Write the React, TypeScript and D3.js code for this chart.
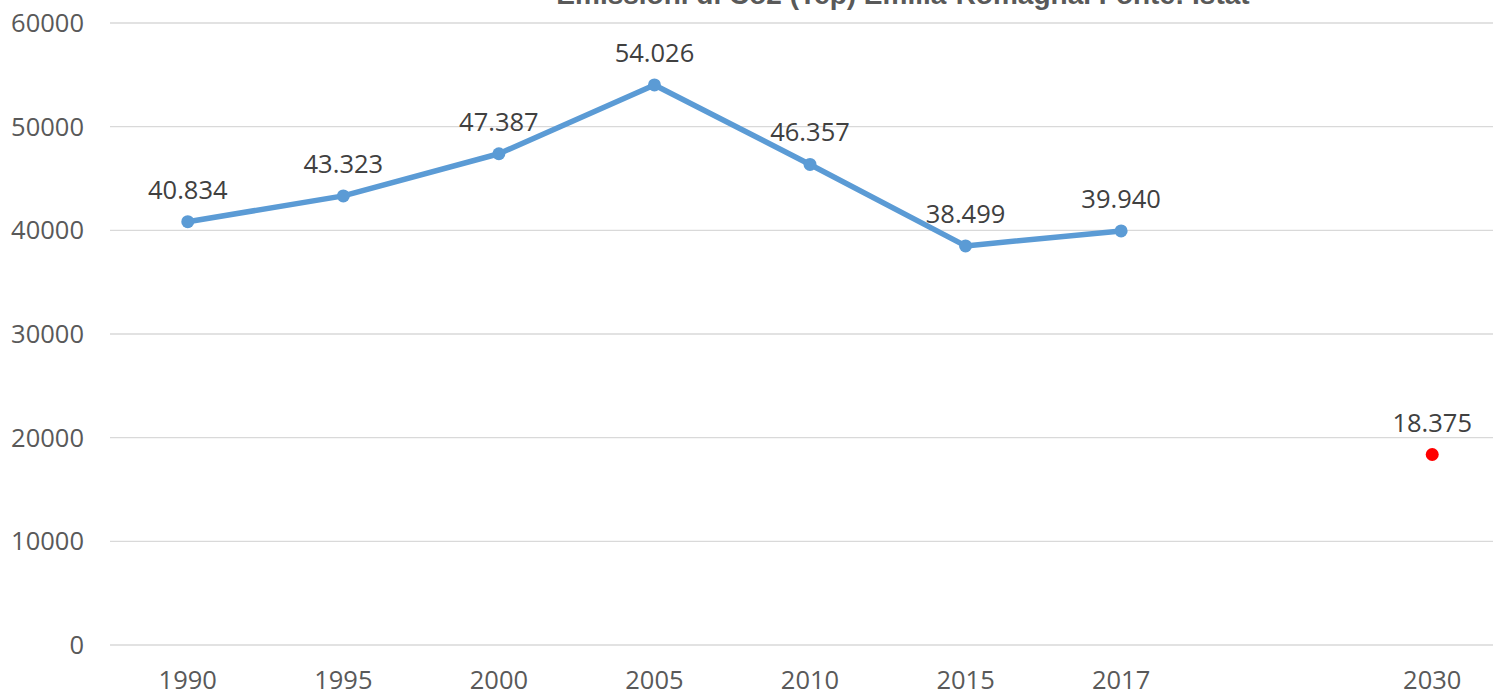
import React from "react";
import * as d3 from "d3";

const categories = ["1990", "1995", "2000", "2005", "2010", "2015", "2017", "", "2030"];
const seriesYears = ["1990", "1995", "2000", "2005", "2010", "2015", "2017"];
const seriesValues = [40834, 43323, 47387, 54026, 46357, 38499, 39940];
const targetYear = "2030";
const targetValue = 18375;
const yTicks = [0, 10000, 20000, 30000, 40000, 50000, 60000];
const title = "Emissioni di Co2 (Tep) Emilia-Romagna. Fonte: Istat";

const W = 1493;
const H = 693;
const left = 110;
const right = 1510;
const top = 23;
const bottom = 645;

const fmt = (v: number) => {
  const s = String(v);
  return s.slice(0, s.length - 3) + "." + s.slice(s.length - 3);
};

export default function App() {
  const x = d3.scaleBand<string>().domain(categories.map((c, i) => c || "_" + i)).range([left, right]);
  const key = (c: string) => (c === "" ? "_" + categories.indexOf("") : c);
  const cx = (c: string) => (x(key(c)) as number) + x.bandwidth() / 2;
  const y = d3.scaleLinear().domain([0, 60000]).range([bottom, top]);
  const line = d3
    .line<number>()
    .x((_, i) => cx(seriesYears[i]))
    .y((d) => y(d));
  const font = "'Open Sans', 'Liberation Sans', sans-serif";
  const fs = 25.5;
  return (
    <svg width={W} height={H} style={{ position: "absolute", left: 0, top: 0, background: "#fff" }}>
      <rect x={0} y={0} width={W} height={H} fill="#fff" />
      <text x={903} y={4} textAnchor="middle" fontFamily="'Liberation Sans', Arial, sans-serif" fontWeight="bold" fontSize={28} fill="#595959">
        {title}
      </text>
      {yTicks.map((t) => (
        <g key={t}>
          <line x1={left} x2={W} y1={y(t)} y2={y(t)} stroke="#d9d9d9" strokeWidth={1.3} />
          <text x={84} y={y(t) + 9} textAnchor="end" fontFamily={font} fontSize={fs} fill="#595959">
            {t}
          </text>
        </g>
      ))}
      {categories.map((c, i) =>
        c ? (
          <text key={i} x={cx(c)} y={689} textAnchor="middle" fontFamily={font} fontSize={fs} fill="#595959">
            {c}
          </text>
        ) : null
      )}
      <path d={line(seriesValues) || ""} fill="none" stroke="#5B9BD5" strokeWidth={5.5} strokeLinejoin="round" />
      {seriesValues.map((v, i) => (
        <g key={i}>
          <circle cx={cx(seriesYears[i])} cy={y(v)} r={6.5} fill="#5B9BD5" />
          <text x={cx(seriesYears[i])} y={y(v) - 23} textAnchor="middle" fontFamily={font} fontSize={fs} fill="#404040">
            {fmt(v)}
          </text>
        </g>
      ))}
      <circle cx={cx(targetYear)} cy={y(targetValue)} r={6.5} fill="#FF0000" />
      <text x={cx(targetYear)} y={y(targetValue) - 23} textAnchor="middle" fontFamily={font} fontSize={fs} fill="#404040">
        {fmt(targetValue)}
      </text>
    </svg>
  );
}
